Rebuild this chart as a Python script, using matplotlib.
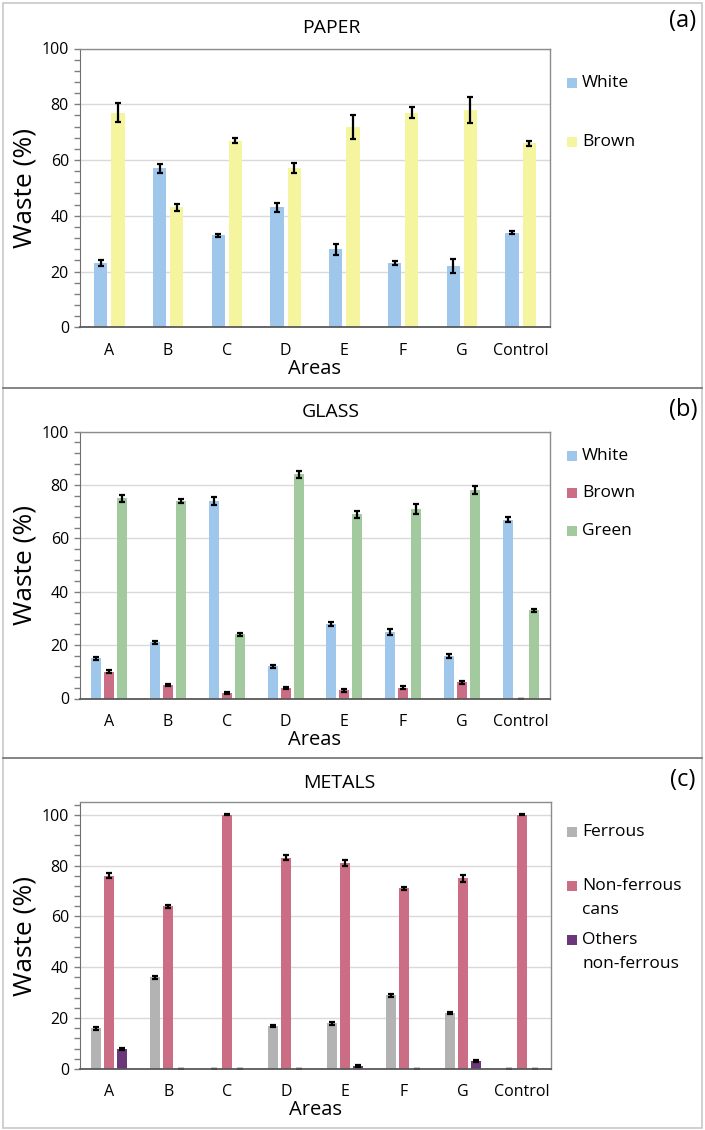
import numpy as np
import matplotlib
matplotlib.use("Agg")
import matplotlib.pyplot as plt
from matplotlib.patches import Rectangle
from matplotlib.lines import Line2D
from matplotlib.ticker import MultipleLocator

plt.rcParams['font.family'] = ['Open Sans', 'DejaVu Sans']

areas = ["A", "B", "C", "D", "E", "F", "G", "Control"]

# PAPER
paper_white = [23, 57, 33, 43, 28, 23, 22, 34]
paper_white_err = [1.0, 1.5, 0.6, 1.5, 2.0, 0.8, 2.5, 0.7]
paper_brown = [77, 43, 67, 57, 72, 77, 78, 66]
paper_brown_err = [3.5, 1.2, 1.0, 1.8, 4.3, 2.0, 4.7, 1.0]

# GLASS
glass_white = [15, 21, 74, 12, 28, 25, 16, 67]
glass_white_err = [0.6, 0.5, 1.5, 0.4, 0.7, 1.2, 0.7, 1.0]
glass_brown = [10, 5, 2, 4, 3, 4, 6, 0]
glass_brown_err = [0.5, 0.4, 0.3, 0.4, 0.4, 0.5, 0.5, 0.0]
glass_green = [75, 74, 24, 84, 69, 71, 78, 33]
glass_green_err = [1.2, 0.8, 0.5, 1.2, 1.3, 1.8, 1.5, 0.5]

# METALS
metal_ferrous = [16, 36, 0, 17, 18, 29, 22, 0]
metal_ferrous_err = [0.5, 0.5, 0.0, 0.5, 0.5, 0.5, 0.5, 0.0]
metal_cans = [76, 64, 100, 83, 81, 71, 75, 100]
metal_cans_err = [1.0, 0.5, 0.2, 1.0, 1.2, 0.7, 1.3, 0.2]
metal_others = [8, 0, 0, 0, 1, 0, 3, 0]
metal_others_err = [0.4, 0.0, 0.0, 0.0, 0.4, 0.0, 0.4, 0.0]

C_BLUE = "#9fc7ec"
C_YELLOW = "#f5f5a0"
C_PINK = "#cb6d84"
C_GREEN = "#a3c99e"
C_GRAY = "#b3b3b3"
C_PURPLE = "#6a3878"

W, H = 705, 1130
fig = plt.figure(figsize=(W / 100, H / 100), dpi=100)


def fx(px):
    return px / W


def fy(py):
    return 1 - py / H


def make_axes(top_px, bottom_px, left_px=80, right_px=550):
    return fig.add_axes([fx(left_px), fy(bottom_px), fx(right_px - left_px),
                         (bottom_px - top_px) / H])


err_kw = dict(ecolor="black", elinewidth=1.6, capsize=2.4, capthick=1.6)


def style_axes(ax, ymax):
    ax.set_xlim(-0.5, len(areas) - 0.5)
    ax.set_ylim(0, ymax)
    ax.set_yticks(np.arange(0, 101, 20))
    ax.yaxis.set_minor_locator(MultipleLocator(4))
    ax.set_xticks(np.arange(len(areas)))
    ax.set_xticklabels(areas)
    ax.tick_params(axis="x", length=0, labelsize=11.5, pad=11)
    ax.tick_params(axis="y", which="major", length=4, width=1, color="#7f7f7f",
                   labelsize=11.5, pad=4)
    ax.tick_params(axis="y", which="minor", length=4, width=1, color="#7f7f7f")
    ax.grid(axis="y", which="major", color="#d9d9d9", lw=1)
    ax.set_axisbelow(True)
    for s in ["top", "right"]:
        ax.spines[s].set_color("#8c8c8c")
        ax.spines[s].set_linewidth(1)
    ax.spines["left"].set_color("#6f6f6f")
    ax.spines["bottom"].set_color("#595959")
    ax.spines["bottom"].set_linewidth(1.3)
    ax.set_ylabel("Waste (%)", fontsize=19, labelpad=3)
    ax.set_xlabel("Areas", fontsize=14.5, labelpad=0)


def legend(entries, ys, line_gap=24):
    for (label, color), y in zip(entries, ys):
        fig.add_artist(Rectangle((fx(567), fy(y + 5)), fx(10), 10 / H,
                                 facecolor=color, edgecolor="none"))
        for i, line in enumerate(label.split("\n")):
            fig.text(fx(582), fy(y + i * line_gap), line, fontsize=12.5,
                     va="center", ha="left")


x = np.arange(len(areas))

# Panel (a)
ax1 = make_axes(48.5, 327.3)
ax1.bar(x - 0.145, paper_white, 0.225, color=C_BLUE, yerr=paper_white_err, error_kw=err_kw)
ax1.bar(x + 0.145, paper_brown, 0.225, color=C_YELLOW, yerr=paper_brown_err, error_kw=err_kw)
style_axes(ax1, 100)
fig.text(fx(331), fy(28), "PAPER", fontsize=14, ha="center", va="center")
fig.text(fx(683), fy(21), "(a)", fontsize=17, ha="center", va="center")
legend([("White", C_BLUE), ("Brown", C_YELLOW)], [83, 142])

# Panel (b)
ax2 = make_axes(431.7, 698.5)
ax2.bar(x - 0.22, glass_white, 0.17, color=C_BLUE, yerr=glass_white_err, error_kw=err_kw)
ax2.bar(x, glass_brown, 0.17, color=C_PINK, yerr=glass_brown_err, error_kw=err_kw)
ax2.bar(x + 0.22, glass_green, 0.17, color=C_GREEN, yerr=glass_green_err, error_kw=err_kw)
style_axes(ax2, 100)
fig.text(fx(331), fy(412), "GLASS", fontsize=14, ha="center", va="center")
fig.text(fx(683), fy(410), "(b)", fontsize=17, ha="center", va="center")
legend([("White", C_BLUE), ("Brown", C_PINK), ("Green", C_GREEN)], [456, 493, 531])

# Panel (c)
ax3 = make_axes(802, 1069, right_px=551)
ax3.bar(x - 0.22, metal_ferrous, 0.17, color=C_GRAY, yerr=metal_ferrous_err, error_kw=err_kw)
ax3.bar(x, metal_cans, 0.17, color=C_PINK, yerr=metal_cans_err, error_kw=err_kw)
ax3.bar(x + 0.22, metal_others, 0.17, color=C_PURPLE, yerr=metal_others_err, error_kw=err_kw)
style_axes(ax3, 105)
fig.text(fx(339), fy(783), "METALS", fontsize=14, ha="center", va="center")
fig.text(fx(683), fy(780), "(c)", fontsize=17, ha="center", va="center")
legend([("Ferrous", C_GRAY), ("Non-ferrous\ncans", C_PINK),
        ("Others\nnon-ferrous", C_PURPLE)], [832, 886, 940])

# Panel borders
fig.add_artist(Rectangle((fx(2.5), fy(1127.5)), fx(699.5), 1125 / H, fill=False,
                         edgecolor="#c8c8c8", lw=1.2))
for yy in [388, 758]:
    fig.add_artist(Line2D([fx(2.5), fx(702)], [fy(yy), fy(yy)], color="#707070", lw=1.2))

fig.savefig("out.png", dpi=100)
